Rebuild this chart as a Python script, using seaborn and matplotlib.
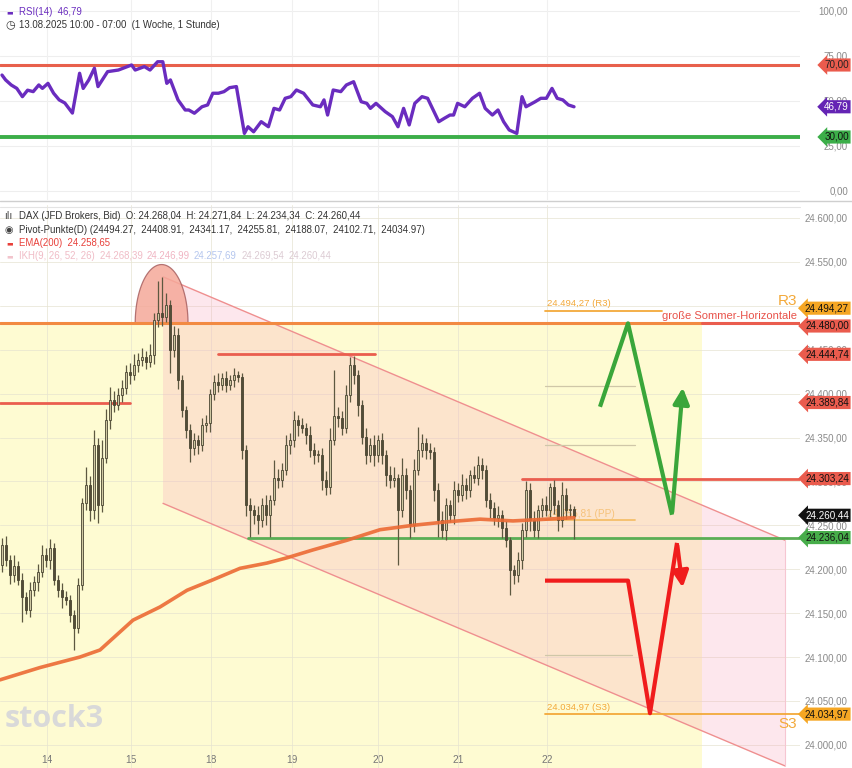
import numpy as np
import pandas as pd
import matplotlib
matplotlib.use("Agg")
import matplotlib.pyplot as plt
import seaborn as sns
from matplotlib.patches import Polygon
from matplotlib.lines import Line2D
from matplotlib.transforms import blended_transform_factory

# ---------------- data ----------------
day_labels = ["14", "15", "18", "19", "20", "21", "22"]
day_start_bar = [11.25, 32.25, 52.25, 72.5, 94, 114, 136.25]

first_open = 24205
closes = [24228, 24210, 24193, 24204, 24188, 24168, 24154, 24176, 24185, 24197,
          24216, 24210, 24224, 24188, 24176, 24168, 24165, 24148, 24133, 24182,
          24275, 24296, 24267, 24341, 24273, 24327, 24370, 24393, 24387, 24398,
          24406, 24425, 24421, 24433, 24438, 24442, 24436, 24444, 24484, 24492,
          24487, 24501, 24450, 24467, 24415, 24381, 24359, 24338, 24347, 24341,
          24364, 24366, 24399, 24413, 24410, 24418, 24410, 24415, 24421, 24419,
          24336, 24273, 24267, 24262, 24256, 24273, 24262, 24279, 24304, 24302,
          24313, 24341, 24347, 24370, 24364, 24361, 24353, 24336, 24330, 24330,
          24302, 24294, 24347, 24375, 24372, 24361, 24398, 24433, 24421, 24387,
          24351, 24330, 24341, 24330, 24347, 24330, 24307, 24302, 24304, 24267,
          24307, 24290, 24250, 24313, 24336, 24344, 24336, 24333, 24290, 24256,
          24245, 24273, 24262, 24290, 24284, 24296, 24290, 24307, 24304, 24319,
          24313, 24279, 24270, 24258, 24262, 24247, 24233, 24199, 24193, 24210,
          24245, 24290, 24256, 24245, 24267, 24273, 24267, 24294, 24273, 24256,
          24284, 24267, 24268.04, 24260.44]
upper_wick = [8, 10, 6, 12, 5, 8, 6, 10, 7, 9,
              12, 8, 10, 6, 5, 8, 7, 6, 5, 8,
              6, 20, 10, 18, 8, 20, 12, 15, 10, 8,
              10, 8, 10, 12, 8, 10, 6, 12, 8, 36,
              41, 14, 6, 10, 8, 6, 5, 6, 8, 6,
              8, 10, 6, 8, 10, 6, 8, 6, 8, 5,
              4, 6, 8, 6, 10, 8, 12, 6, 20, 10,
              8, 12, 8, 10, 6, 8, 6, 10, 8, 6,
              8, 10, 14, 52, 10, 8, 12, 9, 10, 6,
              6, 10, 8, 12, 6, 8, 6, 10, 12, 4,
              20, 8, 6, 12, 26, 10, 6, 8, 6, 8,
              10, 8, 6, 10, 8, 12, 8, 6, 10, 10,
              8, 6, 8, 6, 10, 6, 8, 4, 6, 10,
              8, 10, 8, 10, 6, 8, 10, 4, 8, 6,
              15, 8, 6, 3.8]
lower_wick = [8, 6, 10, 8, 6, 28, 5, 8, 6, 10,
              6, 8, 10, 6, 8, 12, 6, 8, 25, 6,
              6, 8, 12, 10, 20, 8, 6, 10, 8, 6,
              8, 6, 10, 6, 8, 6, 8, 6, 10, 8,
              10, 6, 27, 8, 10, 8, 10, 16, 8, 10,
              6, 8, 10, 6, 8, 6, 8, 6, 8, 6,
              10, 12, 30, 10, 16, 8, 12, 25, 6, 10,
              8, 6, 10, 8, 12, 6, 10, 8, 10, 8,
              12, 10, 8, 6, 10, 8, 6, 8, 10, 12,
              8, 10, 8, 12, 8, 10, 12, 10, 8, 62,
              8, 10, 14, 8, 6, 8, 10, 8, 12, 19,
              10, 12, 8, 10, 8, 6, 10, 8, 6, 8,
              10, 8, 12, 8, 10, 12, 8, 28, 10, 8,
              10, 8, 12, 8, 10, 8, 6, 8, 10, 12,
              8, 10, 8, 26.1]

ema_bar = [-0.5, 9.5, 19.5, 24.5, 32.75, 39.5, 46.25, 52.75, 59.5, 66.25,
           71.25, 77.75, 86.25, 94.5, 102.75, 111.25, 119.5, 127.75, 132, 143]
ema_val = [24074, 24088, 24100, 24108, 24142, 24157, 24176, 24188, 24201, 24207,
           24213, 24222, 24233, 24245, 24250, 24254, 24257, 24255, 24256, 24258.65]

rsi_bar = [0, 0.9, 2.3, 3.7, 5.1, 6.4, 7.8, 9.2, 10.1, 11.5, 12.9, 14.3, 15.7, 17.6,
           19.4, 20.3, 21.7, 23.1, 24, 26.4, 29.1, 32.4, 33.3, 35.6, 37, 38.9, 40.2,
           41.2, 42.1, 44, 45.8, 46.7, 48.1, 50, 51.4, 52.7, 54.1, 55.5, 56.9, 58.6,
           60.6, 61.5, 62.9, 64.8, 66.6, 68, 69.4, 70.8, 72.2, 73.6, 75.4, 77.7, 79.6,
           80.5, 81.4, 82.8, 84.7, 86.1, 87.9, 89.8, 91.2, 92.1, 93.5, 95.8, 97.6, 99,
           100.4, 101.8, 103.2, 105, 106.4, 109.2, 110.6, 112, 112.9, 113.9, 115.7,
           117.6, 119.4, 120.8, 122.6, 124, 125.4, 126.8, 128.7, 130, 131, 133.3,
           134.7, 136.1, 137.5, 138.8, 140.2, 141.6, 143]
rsi_val = [64.4, 61.7, 58.9, 57.0, 52.4, 56.0, 55.2, 58.9, 57.0, 59.8, 54.3, 50.6, 48.9, 43.3,
           65.4, 57.0, 61.7, 68.2, 58.0, 66.3, 67.2, 70.0, 67.2, 69.1, 67.2, 71.8, 71.8,
           59.8, 61.7, 50.6, 45.0, 45.0, 43.2, 46.8, 47.8, 54.3, 54.3, 55.2, 57.4, 58.0,
           32.0, 35.7, 32.9, 38.5, 35.7, 45.9, 45.0, 51.5, 52.4, 56.1, 54.3, 47.8, 46.8,
           50.6, 42.2, 56.1, 55.2, 58.9, 60.7, 49.6, 48.7, 45.9, 48.7, 44.1, 41.3, 35.7,
           45.9, 36.7, 48.7, 52.4, 51.5, 38.5, 40.4, 42.2, 42.2, 48.7, 46.8,
           51.5, 54.3, 45.9, 42.2, 45.0, 38.5, 33.9, 32.0, 52.4, 46.8, 49.6,
           51.5, 51.5, 57.0, 51.5, 50.6, 47.8, 46.79]

pivot_names = ["R3", "R2", "R1", "PP", "S1", "S2", "S3"]
pivot_vals = [24494.27, 24408.91, 24341.17, 24255.81, 24188.07, 24102.71, 24034.97]

summer_level = 24480.00
res_levels = [24444.74, 24389.84, 24303.24]
support_level = 24236.04
last_close = 24260.44

# channel (bar, price) corners
channel_bar = [40.25, 195.75, 195.75, 40.25]
channel_px = [24533, 24233, 23976, 24275]
# hump over the high
hump_bar, hump_price, hump_halfwidth, hump_height = 39.9, 24480, 6.6, 67
# scenario arrows
green_bar = [149.5, 156.5, 167.5, 170.25]
green_px = [24385, 24480, 24262, 24410]
red_bar = [135.75, 156.5, 162, 168.75, 170.25]
red_px = [24187, 24187, 24036, 24230, 24176]

# ---------------- style ----------------
sns.set_theme(style="white")
plt.rcParams["font.family"] = ["Liberation Sans", "DejaVu Sans"]

FW, FH = 853, 768
fig = plt.figure(figsize=(FW / 100, FH / 100), dpi=100)
fig.patch.set_facecolor("white")
PW = 800
ax_r = fig.add_axes([0, 1 - 200 / FH, PW / FW, 200 / FH])
ax_m = fig.add_axes([0, 0, PW / FW, 563 / FH])
XL = (-0.5, 199.5)


def de(v):
    s = f"{v:,.2f}"
    return s.replace(",", "X").replace(".", ",").replace("X", ".")


for ax in (ax_r, ax_m):
    ax.set_xlim(*XL)
    for s in ax.spines.values():
        s.set_visible(False)
    ax.set_facecolor("white")
    ax.yaxis.tick_right()
    ax.tick_params(axis="y", length=0, pad=34.5, labelsize=7, labelcolor="#8a8a8a")
    ax.set_xlabel("")
    ax.set_ylabel("")

ax_m.set_ylim(23973.6, 24614.8)
ax_r.set_ylim(-5, 106.1)

# ---------------- RSI panel ----------------
rsi_ticks = [0, 25, 50, 75, 100]
ax_r.set_yticks(rsi_ticks)
ax_r.set_yticklabels([de(v) for v in rsi_ticks])
ax_r.set_xticks([])
for v in rsi_ticks:
    ax_r.axhline(v, color="#eeeeee", lw=0.8, zorder=0)
for d in day_start_bar:
    ax_r.axvline(d, color="#f0f0f0", lw=0.8, zorder=0)
ax_r.axhline(70, color="#e8604c", lw=2.2, zorder=2)
ax_r.axhline(30, color="#3cae49", lw=2.8, zorder=2)
sns.lineplot(x=rsi_bar, y=rsi_val, ax=ax_r, color="#6a2cbf", lw=2.4, zorder=3, sort=False)
ax_r.set_xlim(*XL)


def tag(ax, y, txt, fc, tc, fs=7.1):
    tr = blended_transform_factory(ax.transAxes, ax.transData)
    ax.text(1.0 + 49 / PW, y, txt, transform=tr, ha="right", va="center", fontsize=fs,
            color=tc, zorder=20, clip_on=False,
            bbox=dict(boxstyle="larrow,pad=0.16", fc=fc, ec="none"))


tag(ax_r, 70, "70,00", "#ea5b4d", "#222222")
tag(ax_r, 46.79, "46,79", "#6424b4", "white")
tag(ax_r, 30, "30,00", "#3cae49", "#111111")

# ---------------- main panel ----------------
yt = list(np.arange(24000, 24601, 50))
ax_m.set_yticks(yt)
ax_m.set_yticklabels([de(v) for v in yt])
ax_m.set_xticks(day_start_bar)
ax_m.set_xticklabels(day_labels)
ax_m.tick_params(axis="x", length=0, pad=-9.5, labelsize=7.4, labelcolor="#777777")
for ax in (ax_r, ax_m):
    for lab in ax.get_yticklabels():
        lab.set_horizontalalignment("right")

# yellow zone
ax_m.fill_between([XL[0], 175], 23900, summer_level, color="#fefbd2", lw=0, zorder=0.5)
# grid
for v in yt:
    ax_m.axhline(v, color="#e6e3d0", lw=0.7, alpha=0.7, zorder=0.8)
for d in day_start_bar:
    ax_m.axvline(d, color="#e6e3d0", lw=0.7, alpha=0.7, zorder=0.8)

# channel
ax_m.add_patch(Polygon(list(zip(channel_bar, channel_px)), closed=True, fc="#f8aac0",
                       alpha=0.28, ec="none", zorder=1))
ax_m.plot(channel_bar[:2], channel_px[:2], color="#ef8f8f", lw=1, zorder=1.2)
ax_m.plot([channel_bar[3], channel_bar[2]], [channel_px[3], channel_px[2]], color="#ef8f8f", lw=1, zorder=1.2)
ax_m.plot(channel_bar[1:3], channel_px[1:3], color="#f6c6d2", lw=0.8, zorder=1.2)

# hump
t = np.linspace(0, np.pi, 60)
hx = hump_bar + hump_halfwidth * np.cos(t)
hy = hump_price + hump_height * np.sin(t)
ax_m.add_patch(Polygon(list(zip(hx, hy)), closed=True, fc="#f5a899", alpha=0.85,
                       ec="#a86060", lw=0.9, zorder=1.3))

# pivot lines
piv_start = 135.75
piv_end = {"R3": 165, "R2": 158.25, "R1": 158.25, "PP": 158.25, "S1": 156.5, "S2": 157.5, "S3": XL[1]}
piv_col = {"R3": "#f3a93a", "R2": "#cfc7a8", "R1": "#cfc7a8", "PP": "#f5bf6a",
           "S1": "#cfc7a8", "S2": "#cfc7a8", "S3": "#f3a93a"}
for n, v in zip(pivot_names, pivot_vals):
    ax_m.plot([piv_start, piv_end[n]], [v, v], color=piv_col[n], lw=1.3 if n in ("R3", "S3", "PP") else 0.9, zorder=1.6)
ax_m.text(piv_start + 0.5, pivot_vals[0] + 6, de(pivot_vals[0]) + " (R3)", fontsize=6.8, color="#f3a93a", zorder=1.6)
ax_m.text(piv_start + 0.5, pivot_vals[3] + 4, de(pivot_vals[3]) + " (PP)", fontsize=7.2, color="#f6c27a", zorder=1.6)
ax_m.text(piv_start + 0.5, pivot_vals[6] + 5, de(pivot_vals[6]) + " (S3)", fontsize=6.8, color="#f3a93a", zorder=1.6)

# key horizontals
ax_m.plot([XL[0], 175], [summer_level] * 2, color="#f28a42", lw=2.2, zorder=1.7)
ax_m.plot([175, XL[1]], [summer_level] * 2, color="#ea5d4e", lw=2.2, zorder=1.7)
ax_m.plot([54, 93.25], [res_levels[0]] * 2, color="#ea5d4e", lw=2, zorder=1.7)
ax_m.plot([XL[0], 32], [res_levels[1]] * 2, color="#ea5d4e", lw=2, zorder=1.7)
ax_m.plot([130, XL[1]], [res_levels[2]] * 2, color="#ea5d4e", lw=2, zorder=1.7)
ax_m.plot([61.5, XL[1]], [support_level] * 2, color="#5aae55", lw=2, zorder=1.7)

# candles
opens = [first_open] + closes[:-1]
df = pd.DataFrame({"bar": np.arange(len(closes)), "open": opens, "close": closes,
                   "up": upper_wick, "dn": lower_wick})
df["top"] = df[["open", "close"]].max(axis=1)
df["bot"] = df[["open", "close"]].min(axis=1)
df["high"] = df["top"] + df["up"]
df["low"] = df["bot"] - df["dn"]
bull = df["close"] >= df["open"]
ax_m.vlines(df["bar"], df["low"], df["high"], color="#5d5840", lw=0.9, zorder=3)
for mask, fc in ((bull, "#cfc8a2"), (~bull, "#534d37")):
    d = df[mask]
    ax_m.bar(d["bar"], (d["top"] - d["bot"]).clip(lower=0.8), bottom=d["bot"], width=0.7,
             color=fc, edgecolor="#4a4532", linewidth=0.6, zorder=3.2)

# EMA
sns.lineplot(x=ema_bar, y=ema_val, ax=ax_m, color="#ec6a34", lw=2.6, zorder=3.5, alpha=0.9)
ax_m.set_xlim(*XL)
ax_m.set_ylim(23973.6, 24614.8)

# scenario arrows
ax_m.plot(green_bar[:-1], green_px[:-1], color="#3aa63a", lw=3, zorder=4, solid_capstyle="butt")
ax_m.annotate("", xy=(green_bar[-1], green_px[-1]), xytext=(green_bar[-2], green_px[-2]),
              arrowprops=dict(arrowstyle="-|>,head_length=0.8,head_width=0.4", color="#3aa63a", lw=3), zorder=4)
ax_m.plot(red_bar[:-1], red_px[:-1], color="#f01c1c", lw=3, zorder=4, solid_capstyle="butt")
ax_m.annotate("", xy=(red_bar[-1], red_px[-1]), xytext=(red_bar[-2], red_px[-2]),
              arrowprops=dict(arrowstyle="-|>,head_length=0.8,head_width=0.4", color="#f01c1c", lw=3), zorder=4)

# labels on the right of the plot
ax_m.text(198.8, summer_level + 3, "große Sommer-Horizontale", ha="right", va="bottom",
          fontsize=8, color="#e8524a", zorder=5)
ax_m.text(198.8, pivot_vals[0] + 3, "R3", ha="right", va="bottom", fontsize=11, color="#f3a93a", zorder=5)
ax_m.text(198.8, pivot_vals[6] - 3, "S3", ha="right", va="top", fontsize=11, color="#f3a93a", zorder=5)

# price tags
tag(ax_m, pivot_vals[0] + 3, de(pivot_vals[0]), "#f5a623", "#111111")
tag(ax_m, summer_level - 3, de(summer_level), "#ea5b4d", "#111111")
tag(ax_m, res_levels[0], de(res_levels[0]), "#ea5b4d", "#111111")
tag(ax_m, res_levels[1], de(res_levels[1]), "#ea5b4d", "#111111")
tag(ax_m, res_levels[2], de(res_levels[2]), "#ea5b4d", "#111111")
tag(ax_m, last_close + 1, de(last_close), "#111111", "white")
tag(ax_m, support_level, de(support_level), "#47ad4a", "#111111")
tag(ax_m, pivot_vals[6], de(pivot_vals[6]), "#f5a623", "#111111")

# watermark
ax_m.text(0.006, 0.072, "stock3", transform=ax_m.transAxes, fontsize=22, color="#d9d9d9",
          fontweight="bold", zorder=2, family=["Open Sans", "DejaVu Sans"])

# panel separators
fig.add_artist(Line2D([0, 1], [1 - 201 / FH] * 2, color="#cfcfcf", lw=1))
fig.add_artist(Line2D([0, PW / FW], [1 - 207 / FH] * 2, color="#e4e4e4", lw=0.8))


def ftxt(x, y, s, **kw):
    kw.setdefault("fontsize", 6.9)
    kw.setdefault("color", "#333333")
    fig.text(x / FW, 1 - y / FH, s, va="center", ha="left", **kw)


# RSI legend
ftxt(6, 12, "▬", color="#6a2cbf", fontsize=5, family=["DejaVu Sans"])
ftxt(19, 12, "RSI(14)  46,79", color="#6a2cbf")
ftxt(5, 25, "◷", fontsize=8, family=["DejaVu Sans"])
ftxt(19, 25, "13.08.2025 10:00 - 07:00  (1 Woche, 1 Stunde)")

# main legend
ftxt(4, 216, "ılı", fontsize=7, color="#444444", family=["DejaVu Sans"])
ftxt(19, 216, "DAX (JFD Brokers, Bid)  O: 24.268,04  H: 24.271,84  L: 24.234,34  C: 24.260,44")
ftxt(5, 230, "◉", fontsize=7, color="#444444", family=["DejaVu Sans"])
ftxt(19, 230, "Pivot-Punkte(D) (24494.27,  24408.91,  24341.17,  24255.81,  24188.07,  24102.71,  24034.97)")
ftxt(6, 243, "▬", color="#e8403a", fontsize=5, family=["DejaVu Sans"])
ftxt(19, 243, "EMA(200)  24.258,65", color="#e8403a")
ftxt(6, 256, "▬", color="#f2c4cc", fontsize=5, family=["DejaVu Sans"])
ftxt(19, 256, "IKH(9, 26, 52, 26)  24.268,39", color="#f0bcc6")
ftxt(147, 256, "24.246,99", color="#f0b4c2")
ftxt(194, 256, "24.257,69", color="#b4c6ee")
ftxt(242, 256, "24.269,54", color="#dccbd3")
ftxt(289, 256, "24.260,44", color="#dccbd3")

fig.savefig("out.png", dpi=100, facecolor="white")
